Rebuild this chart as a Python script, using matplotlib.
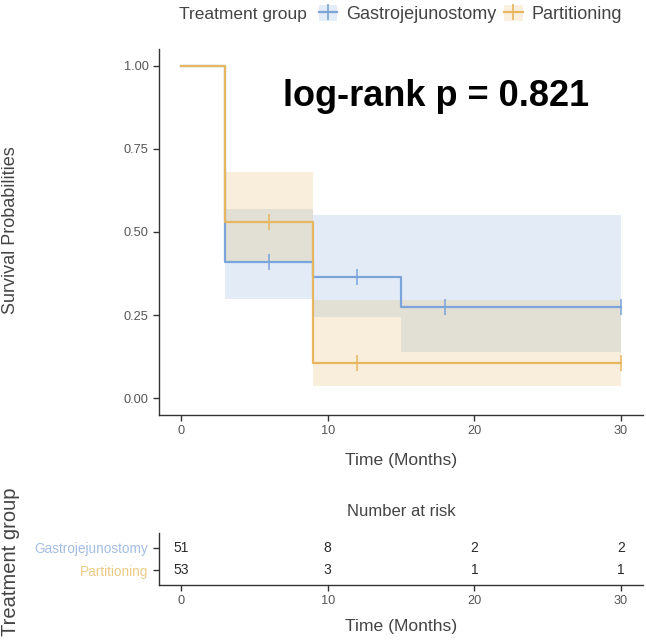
"""
Kaplan-Meier curves: gastrojejunostomy vs partitioning, with risk table
"""
import numpy as np
import matplotlib
matplotlib.use("Agg")
import matplotlib.pyplot as plt
from matplotlib.lines import Line2D
from matplotlib.patches import Patch

plt.rcParams['font.family'] = ['Liberation Sans', 'DejaVu Sans']

# --- data ---
groups = ['Gastrojejunostomy', 'Partitioning']

gj_time = [0, 3, 9, 15, 30]
gj_surv = [1.0, 0.41, 0.365, 0.275, 0.275]
gj_lower = [1.0, 0.30, 0.245, 0.138, 0.138]
gj_upper = [1.0, 0.57, 0.55, 0.55, 0.55]
gj_censor = [6, 12, 18, 30]

pt_time = [0, 3, 9, 30]
pt_surv = [1.0, 0.53, 0.105, 0.105]
pt_lower = [1.0, 0.41, 0.036, 0.036]
pt_upper = [1.0, 0.68, 0.297, 0.297]
pt_censor = [6, 12, 30]

risk_times = [0, 10, 20, 30]
gj_risk = [51, 8, 2, 2]
pt_risk = [53, 3, 1, 1]

p_text = 'log-rank p = 0.821'

blue = '#7BA4DA'
orange = '#E6B660'
blue_light = '#A3BDE3'
orange_light = '#EBCB86'
text_col = '#444444'
tick_col = '#555555'

W, H = 646, 640


def surv_at(times, surv, t):
    """Step-function lookup of survival at time t"""
    idx = np.searchsorted(times, t, side='right') - 1
    return np.asarray(surv)[idx]


def style_axes(ax):
    for side in ['top', 'right']:
        ax.spines[side].set_visible(False)
    for side in ['left', 'bottom']:
        ax.spines[side].set_color('#333333')
        ax.spines[side].set_linewidth(1.0)
    ax.tick_params(colors='#333333', labelcolor=tick_col, labelsize=9.2,
                   length=4, width=1.0)


fig = plt.figure(figsize=(W / 100, H / 100), dpi=100)

# --- main survival plot (pixel box 159..643 x 49..415) ---
ax = fig.add_axes([159 / W, 1 - 415 / H, 484 / W, 366 / H])
curves = [
    (gj_time, gj_surv, gj_lower, gj_upper, gj_censor, blue),
    (pt_time, pt_surv, pt_lower, pt_upper, pt_censor, orange),
]
for times, surv, lo, hi, cens, col in curves:
    ax.fill_between(times, lo, hi, step='post', color=col, alpha=0.22,
                    linewidth=0)
for times, surv, lo, hi, cens, col in curves:
    ax.step(times, surv, where='post', color=col, linewidth=1.6)
    ax.plot(cens, surv_at(times, surv, cens), linestyle='none', marker='|',
            markersize=12, markeredgewidth=1.1, color=col)

ax.set_xlim(-1.5, 31.5)
ax.set_ylim(-0.05, 1.05)
ax.set_xticks(risk_times)
ax.set_yticks([0, 0.25, 0.5, 0.75, 1.0])
ax.set_yticklabels(['0.00', '0.25', '0.50', '0.75', '1.00'])
style_axes(ax)
ax.set_xlabel('Time (Months)', fontsize=12.6, color=text_col)
ax.xaxis.set_label_coords(0.5, (415 - 460) / 366)
ax.xaxis.label.set_va('center')
ax.set_ylabel('Survival Probabilities', fontsize=13, color=text_col)
ax.yaxis.set_label_coords((11 - 159) / 484, (415 - 230) / 366)
ax.yaxis.label.set_va('center')

ax.text((436 - 159) / 484, (415 - 96) / 366, p_text, transform=ax.transAxes,
        ha='center', va='center', fontsize=26, fontweight='bold', color='black')

# --- legend on top ---
fig.text(179 / W, 1 - 14 / H, 'Treatment group', fontsize=12.5,
         color=text_col, ha='left', va='center')
handles = [(Patch(facecolor=c, alpha=0.2, linewidth=0),
            Line2D([0], [0], color=c, marker='|', markersize=12,
                   markeredgewidth=1.2, linewidth=1.6))
           for c in [blue, orange]]
fig.legend(handles, groups, loc='center left',
           bbox_to_anchor=(319 / W, 1 - 14 / H), ncol=2, frameon=False,
           fontsize=13, labelcolor=text_col, handlelength=1.0,
           handleheight=1.0, handletextpad=0.5, columnspacing=0.45,
           borderaxespad=0, borderpad=0)

# --- risk table (pixel box 159..643 x 533..585) ---
tab = fig.add_axes([159 / W, 1 - 585 / H, 484 / W, 52 / H])
for row, counts in zip([2, 1], [gj_risk, pt_risk]):
    for t, n in zip(risk_times, counts):
        tab.text(t, row, str(n), ha='center', va='center', fontsize=10,
                 color='#2a2a2a')
tab.set_xlim(-1.5, 31.5)
tab.set_ylim(0.32, 2.68)
tab.set_xticks(risk_times)
tab.set_yticks([2, 1])
tab.set_yticklabels(groups)
style_axes(tab)
tab.tick_params(axis='y', labelsize=9.8)
for lbl, col in zip(tab.get_yticklabels(), [blue_light, orange_light]):
    lbl.set_color(col)
tab.set_xlabel('Time (Months)', fontsize=12.6, color=text_col)
tab.xaxis.set_label_coords(0.5, (585 - 627) / 52)
tab.xaxis.label.set_va('center')
tab.set_ylabel('Treatment group', fontsize=14.5, color=text_col)
tab.yaxis.set_label_coords((11 - 159) / 484, (585 - 562) / 52)
tab.yaxis.label.set_va('center')
tab.text(0.5, (585 - 512) / 52, 'Number at risk', transform=tab.transAxes,
         ha='center', va='center', fontsize=12, color=text_col)

fig.savefig('out.png', dpi=100)
